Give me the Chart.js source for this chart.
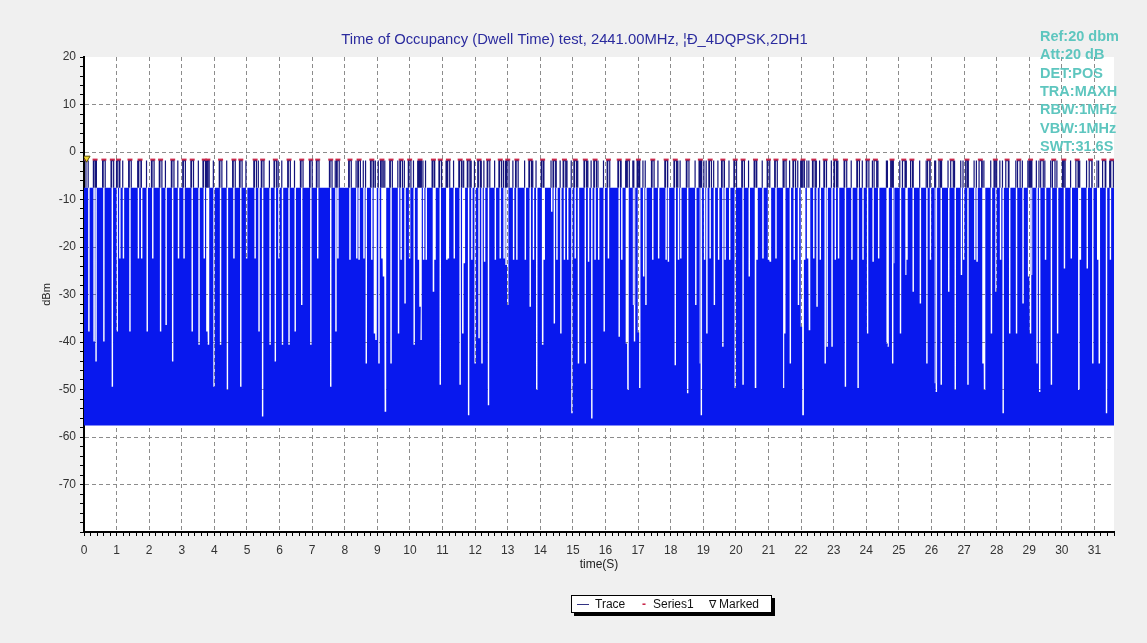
<!DOCTYPE html>
<html>
<head>
<meta charset="utf-8">
<script src="https://cdn.jsdelivr.net/npm/chart.js@4.4.1/dist/chart.umd.min.js"></script>
<style>
html, body { margin: 0; padding: 0; background: #f0f0f0; }
#wrap { position: relative; width: 1147px; height: 643px; overflow: hidden; }
#legend {
    position: absolute; left: 571px; top: 595px; width: 199px; height: 16px;
    background: #fff; border: 1px solid #000; box-shadow: 3px 3px 0 #000;
    font: 12px "Liberation Sans", Arial, sans-serif; color: #111; line-height: 16px;
    white-space: nowrap;
}
#legend span { position: absolute; top: 0; }
</style>
</head>
<body>
<div id="wrap">
    <canvas id="chart" width="1147" height="643"></canvas>
    <div id="legend">
        <span style="left:5px;color:#10106e;">&#8212;</span><span style="left:23px;">Trace</span>
        <span style="left:70px;color:#c8284a;font-weight:bold;">-</span><span style="left:81px;">Series1</span>
        <span style="left:137px;font-size:11px;">&#8711;</span><span style="left:147px;">Marked</span>
    </div>
</div>
<script>
// Gaps in the max-hold trace (time in s, lowest level in dBm)
var gapTime = [
    0.15, 0.31, 0.37, 0.61, 0.87, 1.02, 1.10, 1.21, 1.41, 1.67, 1.77, 1.94, 2.11, 2.35, 2.52, 2.72, 2.90, 3.07,
    3.32, 3.53, 3.69, 3.77, 3.82, 3.99, 4.19, 4.40, 4.60, 4.81, 4.99, 5.25, 5.37, 5.48, 5.71, 5.87, 5.98, 6.09,
    6.29, 6.48, 6.68, 6.96, 7.17, 7.57, 7.73, 7.79,
    8.16, 8.37, 8.44, 8.59, 8.66, 8.83, 8.91, 8.96, 9.05, 9.14, 9.19, 9.25, 9.42, 9.65, 9.73, 9.85, 9.99,
    10.13, 10.26, 10.31, 10.34, 10.42, 10.50, 10.72, 10.77, 10.93, 11.13, 11.18, 11.36, 11.54, 11.62, 11.67,
    11.80, 11.90, 12.00, 12.12, 12.21, 12.29, 12.41, 12.62, 12.77, 12.89, 12.95, 13.00, 13.18, 13.28, 13.54,
    13.69, 13.79, 13.89, 14.07, 14.12, 14.35, 14.43, 14.51, 14.63, 14.74, 14.84, 14.97, 15.07, 15.17, 15.38,
    15.48, 15.58, 15.68, 15.79,
    15.96, 16.09, 16.42, 16.50, 16.64, 16.69, 16.86, 16.89, 17.01, 17.05, 17.17, 17.24, 17.45, 17.63, 17.86,
    17.93, 18.14, 18.24, 18.31, 18.52, 18.77, 18.91, 18.94, 19.04, 19.11, 19.21, 19.34, 19.47, 19.60, 19.67,
    19.81, 19.98, 20.22, 20.41, 20.60, 20.65, 20.83, 21.00, 21.06, 21.23, 21.47, 21.50, 21.67, 21.79, 21.92,
    22.01, 22.06, 22.11, 22.20, 22.26, 22.39, 22.49, 22.59, 22.74, 22.80, 22.95, 23.05, 23.15, 23.36, 23.56,
    23.75, 23.90,
    24.04, 24.21, 24.38, 24.64, 24.67, 24.81, 24.84, 25.05, 25.22, 25.25, 25.44, 25.66, 25.86, 25.97, 26.12,
    26.15, 26.30, 26.53, 26.73, 26.92, 26.99, 27.12, 27.33, 27.40, 27.58, 27.63, 27.84, 27.98, 28.12, 28.20,
    28.40, 28.61, 28.81, 28.98, 29.04, 29.07, 29.24, 29.32, 29.50, 29.68, 29.87, 30.08, 30.29, 30.52, 30.57,
    30.78, 30.95, 31.10, 31.15, 31.37, 31.49
];
var gapDepth = [
    -37.8, -39.9, -44.1, -39.9, -49.4, -37.8, -22.4, -22.4, -37.8, -22.4, -22.4, -37.8, -22.4, -37.8, -36.4, -44.1, -22.4, -22.4,
    -37.8, -40.6, -22.4, -37.8, -40.6, -49.4, -40.6, -50.1, -22.4, -49.4, -22.4, -22.4, -37.8, -55.7, -40.6, -44.1, -22.4, -40.6,
    -40.6, -37.8, -32.2, -40.6, -22.4, -49.4, -37.8, -22.4,
    -22.7, -22.4, -22.7, -22.4, -44.5, -22.7, -38.2, -39.6, -44.5, -22.4, -26.2, -54.7, -44.5, -38.2, -22.7, -31.9, -22.4,
    -40.6, -22.7, -32.6, -39.6, -22.7, -22.7, -29.4, -22.7, -49.0, -22.7, -22.4, -22.4, -49.0, -38.2, -23.4,
    -55.4, -22.7, -44.5, -39.2, -44.5, -23.1, -53.3, -22.7, -22.4, -22.4, -23.8, -32.2, -22.7, -22.7, -22.7,
    -32.6, -22.7, -50.1, -40.6, -22.7, -12.6, -36.1, -22.7, -38.2, -22.7, -22.7, -55.0, -22.4, -44.5, -44.5,
    -23.1, -56.1, -22.7, -22.7,
    -37.8, -22.4, -38.9, -22.7, -40.3, -50.1, -32.2, -39.9, -38.0, -49.7, -26.2, -32.2, -22.7, -22.4, -22.7,
    -23.1, -44.9, -22.7, -22.4, -50.8, -32.2, -44.5, -55.4, -22.7, -38.2, -22.4, -32.2, -22.7, -41.0, -22.7,
    -22.7, -49.7, -49.0, -26.2, -49.7, -22.7, -22.4, -22.7, -23.1, -22.4, -49.7, -38.2, -44.5, -22.7, -32.2,
    -36.8, -55.4, -22.7, -22.4, -37.5, -22.4, -32.6, -22.7, -44.5, -41.0, -41.0, -22.7, -22.4, -49.4, -22.7,
    -49.7, -22.7,
    -38.2, -23.1, -22.4, -40.3, -41.0, -44.5, -23.4, -38.2, -25.9, -22.7, -29.4, -31.9, -44.5, -22.7, -48.7,
    -50.5, -49.0, -29.4, -50.1, -25.9, -22.7, -49.0, -22.7, -23.1, -44.5, -50.1, -38.2, -29.4, -22.7, -55.0,
    -38.2, -38.2, -31.9, -26.2, -38.2, -25.9, -44.5, -50.5, -22.7, -49.0, -38.2, -24.5, -22.4, -50.1, -22.7,
    -24.5, -44.5, -22.7, -44.5, -55.0, -22.7
];
// Series1: peak markers of the packets (time in s)
var pulseTime = [
    0.02, 0.34, 0.61, 0.87, 1.06, 1.41, 1.72, 2.11, 2.35, 2.72, 3.07, 3.32, 3.69, 3.80, 4.19, 4.60, 4.81,
    5.25, 5.48, 5.87, 6.29, 6.68, 6.96, 7.17, 7.57, 7.79,
    8.16, 8.44, 8.83, 9.14, 9.42, 9.73, 9.99, 10.31, 10.72, 10.93, 11.18, 11.54, 11.80, 12.12, 12.41, 12.77,
    13.00, 13.28, 13.69, 14.07, 14.43, 14.74, 15.07, 15.38, 15.68,
    16.09, 16.42, 16.69, 17.01, 17.45, 17.86, 18.14, 18.52, 18.91, 19.21, 19.60, 19.98, 20.22, 20.60, 21.00,
    21.23, 21.50, 21.79, 22.06, 22.39, 22.74, 23.05, 23.36, 23.75,
    24.04, 24.28, 24.79, 25.15, 25.40, 25.92, 26.27, 26.63, 27.09, 27.50, 27.96, 28.32, 28.68, 29.04, 29.39,
    29.75, 30.06, 30.47, 30.88, 31.29, 31.54
];
var markedTime = [0.08];
var markedLevel = [-1.3];

var baseLevel = -7.5;
var floorLevel = -57.6;
var peakLevel = -1.8;
var seriesLevel = -1.6;
var xMax = 31.6;
var yMin = -80, yMax = 20;

var infoLines = ['Ref:20 dbm', 'Att:20 dB', 'DET:POS', 'TRA:MAXH', 'RBW:1MHz', 'VBW:1MHz', 'SWT:31.6S'];
var titleText = 'Time of Occupancy (Dwell Time) test, 2441.00MHz, \u00a6\u00d0_4DQPSK,2DH1';

// build trace envelope from the gaps
var gapHalf = 0.022;
var capHalf = 0.04;
var order = gapTime.map(function(t, i){ return i; }).sort(function(a, b){ return gapTime[a] - gapTime[b]; });
var traceData = [{x: 0, y: baseLevel}];
order.forEach(function(i){
    var t = gapTime[i];
    traceData.push({x: t - gapHalf, y: baseLevel});
    traceData.push({x: t - gapHalf, y: gapDepth[i]});
    traceData.push({x: t + gapHalf, y: gapDepth[i]});
    traceData.push({x: t + gapHalf, y: baseLevel});
});
traceData.push({x: xMax, y: baseLevel});

// navy spikes next to every gap, capped packets at the Series1 marks
var pulseData = [];
order.forEach(function(i){
    var t = gapTime[i] - gapHalf;
    pulseData.push({x: t, y: baseLevel}, {x: t, y: peakLevel}, {x: t, y: null});
});
pulseTime.forEach(function(t){
    pulseData.push({x: t - capHalf, y: baseLevel}, {x: t - capHalf, y: peakLevel}, {x: t + capHalf, y: peakLevel},
        {x: t + capHalf, y: baseLevel}, {x: t + capHalf, y: null});
});
var seriesData = pulseTime.map(function(t){ return {x: t, y: seriesLevel}; });
var markedData = markedTime.map(function(t, i){ return {x: t, y: markedLevel[i]}; });

var plotBg = {
    id: 'plotBg',
    beforeDraw: function(chart){
        var a = chart.chartArea, ctx = chart.ctx;
        ctx.save();
        ctx.fillStyle = '#ffffff';
        ctx.fillRect(a.left, a.top, a.right - a.left, a.bottom - a.top);
        ctx.restore();
    },
    afterDraw: function(chart){
        var ctx = chart.ctx;
        ctx.save();
        // title
        ctx.fillStyle = '#2b2b9e';
        ctx.font = '14.8px "Liberation Sans", Arial, sans-serif';
        ctx.textAlign = 'center';
        ctx.textBaseline = 'middle';
        ctx.fillText(titleText, 574.5, 40);
        // analyser settings
        ctx.fillStyle = '#5ec6bf';
        ctx.font = 'bold 14.5px "Liberation Sans", Arial, sans-serif';
        ctx.textAlign = 'left';
        infoLines.forEach(function(s, i){
            ctx.fillText(s, 1040, 37 + i * 18.3);
        });
        ctx.restore();
    }
};

var xTicks = [];
for (var i = 0; i <= 158; i++) xTicks.push({value: Math.round(i * 2) / 10});
var yTicks = [];
for (var v = yMin; v <= yMax; v += 2) yTicks.push({value: v});

var tickFont = {family: '"Liberation Sans", Arial, sans-serif', size: 12};

new Chart(document.getElementById('chart'), {
    type: 'line',
    data: {
        datasets: [
            {
                label: 'Trace',
                data: traceData,
                borderColor: 'rgba(0,0,0,0)',
                borderWidth: 0,
                backgroundColor: 'rgb(8,24,238)',
                fill: {value: floorLevel},
                pointRadius: 0,
                tension: 0,
                order: 3
            },
            {
                label: 'Pulse',
                data: pulseData,
                borderColor: '#14147c',
                borderWidth: 1.2,
                pointRadius: 0,
                fill: false,
                spanGaps: false,
                tension: 0,
                order: 2
            },
            {
                label: 'Series1',
                data: seriesData,
                showLine: false,
                pointStyle: 'line',
                pointRadius: 2.5,
                pointBorderWidth: 2,
                pointBorderColor: '#c8284a',
                order: 1
            },
            {
                label: 'Marked',
                data: markedData,
                showLine: false,
                pointStyle: 'triangle',
                rotation: 180,
                pointRadius: 4,
                pointBorderWidth: 1,
                pointBorderColor: '#5a4a00',
                pointBackgroundColor: '#f0d830',
                order: 0
            }
        ]
    },
    options: {
        responsive: false,
        animation: false,
        layout: {padding: {left: 0, right: 33, top: 57, bottom: 0}},
        plugins: {
            legend: {display: false},
            tooltip: {enabled: false},
            title: {display: false}
        },
        scales: {
            x: {
                type: 'linear',
                min: 0,
                max: xMax,
                afterBuildTicks: function(s){ s.ticks = xTicks; },
                afterFit: function(s){ s.height = 111; },
                ticks: {
                    autoSkip: false,
                    maxRotation: 0,
                    padding: 7,
                    color: '#333',
                    font: tickFont,
                    callback: function(v){ return Math.abs(v - Math.round(v)) < 1e-6 ? String(Math.round(v)) : ''; }
                },
                grid: {
                    color: function(c){
                        var v = c.tick ? c.tick.value : 0;
                        return (v > 0 && Math.abs(v - Math.round(v)) < 1e-6) ? '#8c8c8c' : 'rgba(0,0,0,0)';
                    },
                    tickColor: '#000',
                    tickLength: 4,
                    lineWidth: 1
                },
                border: {color: '#000', width: 2, dash: [4, 3]},
                title: {
                    display: true,
                    text: 'time(S)',
                    color: '#222',
                    font: {family: '"Liberation Sans", Arial, sans-serif', size: 12},
                    padding: {top: 0, bottom: 71}
                }
            },
            y: {
                min: yMin,
                max: yMax,
                afterBuildTicks: function(s){ s.ticks = yTicks; },
                afterFit: function(s){ s.width = 84; },
                ticks: {
                    autoSkip: false,
                    padding: 4,
                    color: '#333',
                    font: tickFont,
                    callback: function(v){ return (v % 10 === 0 && v > yMin) ? String(v) : ''; }
                },
                grid: {
                    color: function(c){
                        var v = c.tick ? c.tick.value : 0;
                        return (v % 10 === 0 && v > yMin && v < yMax) ? '#8c8c8c' : 'rgba(0,0,0,0)';
                    },
                    tickColor: '#000',
                    tickLength: 4,
                    lineWidth: 1
                },
                border: {color: '#000', width: 2, dash: [4, 3]},
                title: {
                    display: true,
                    text: 'dBm',
                    color: '#222',
                    font: {family: '"Liberation Sans", Arial, sans-serif', size: 11},
                    padding: {top: 40, bottom: 0}
                }
            }
        }
    },
    plugins: [plotBg]
});
</script>
</body>
</html>
